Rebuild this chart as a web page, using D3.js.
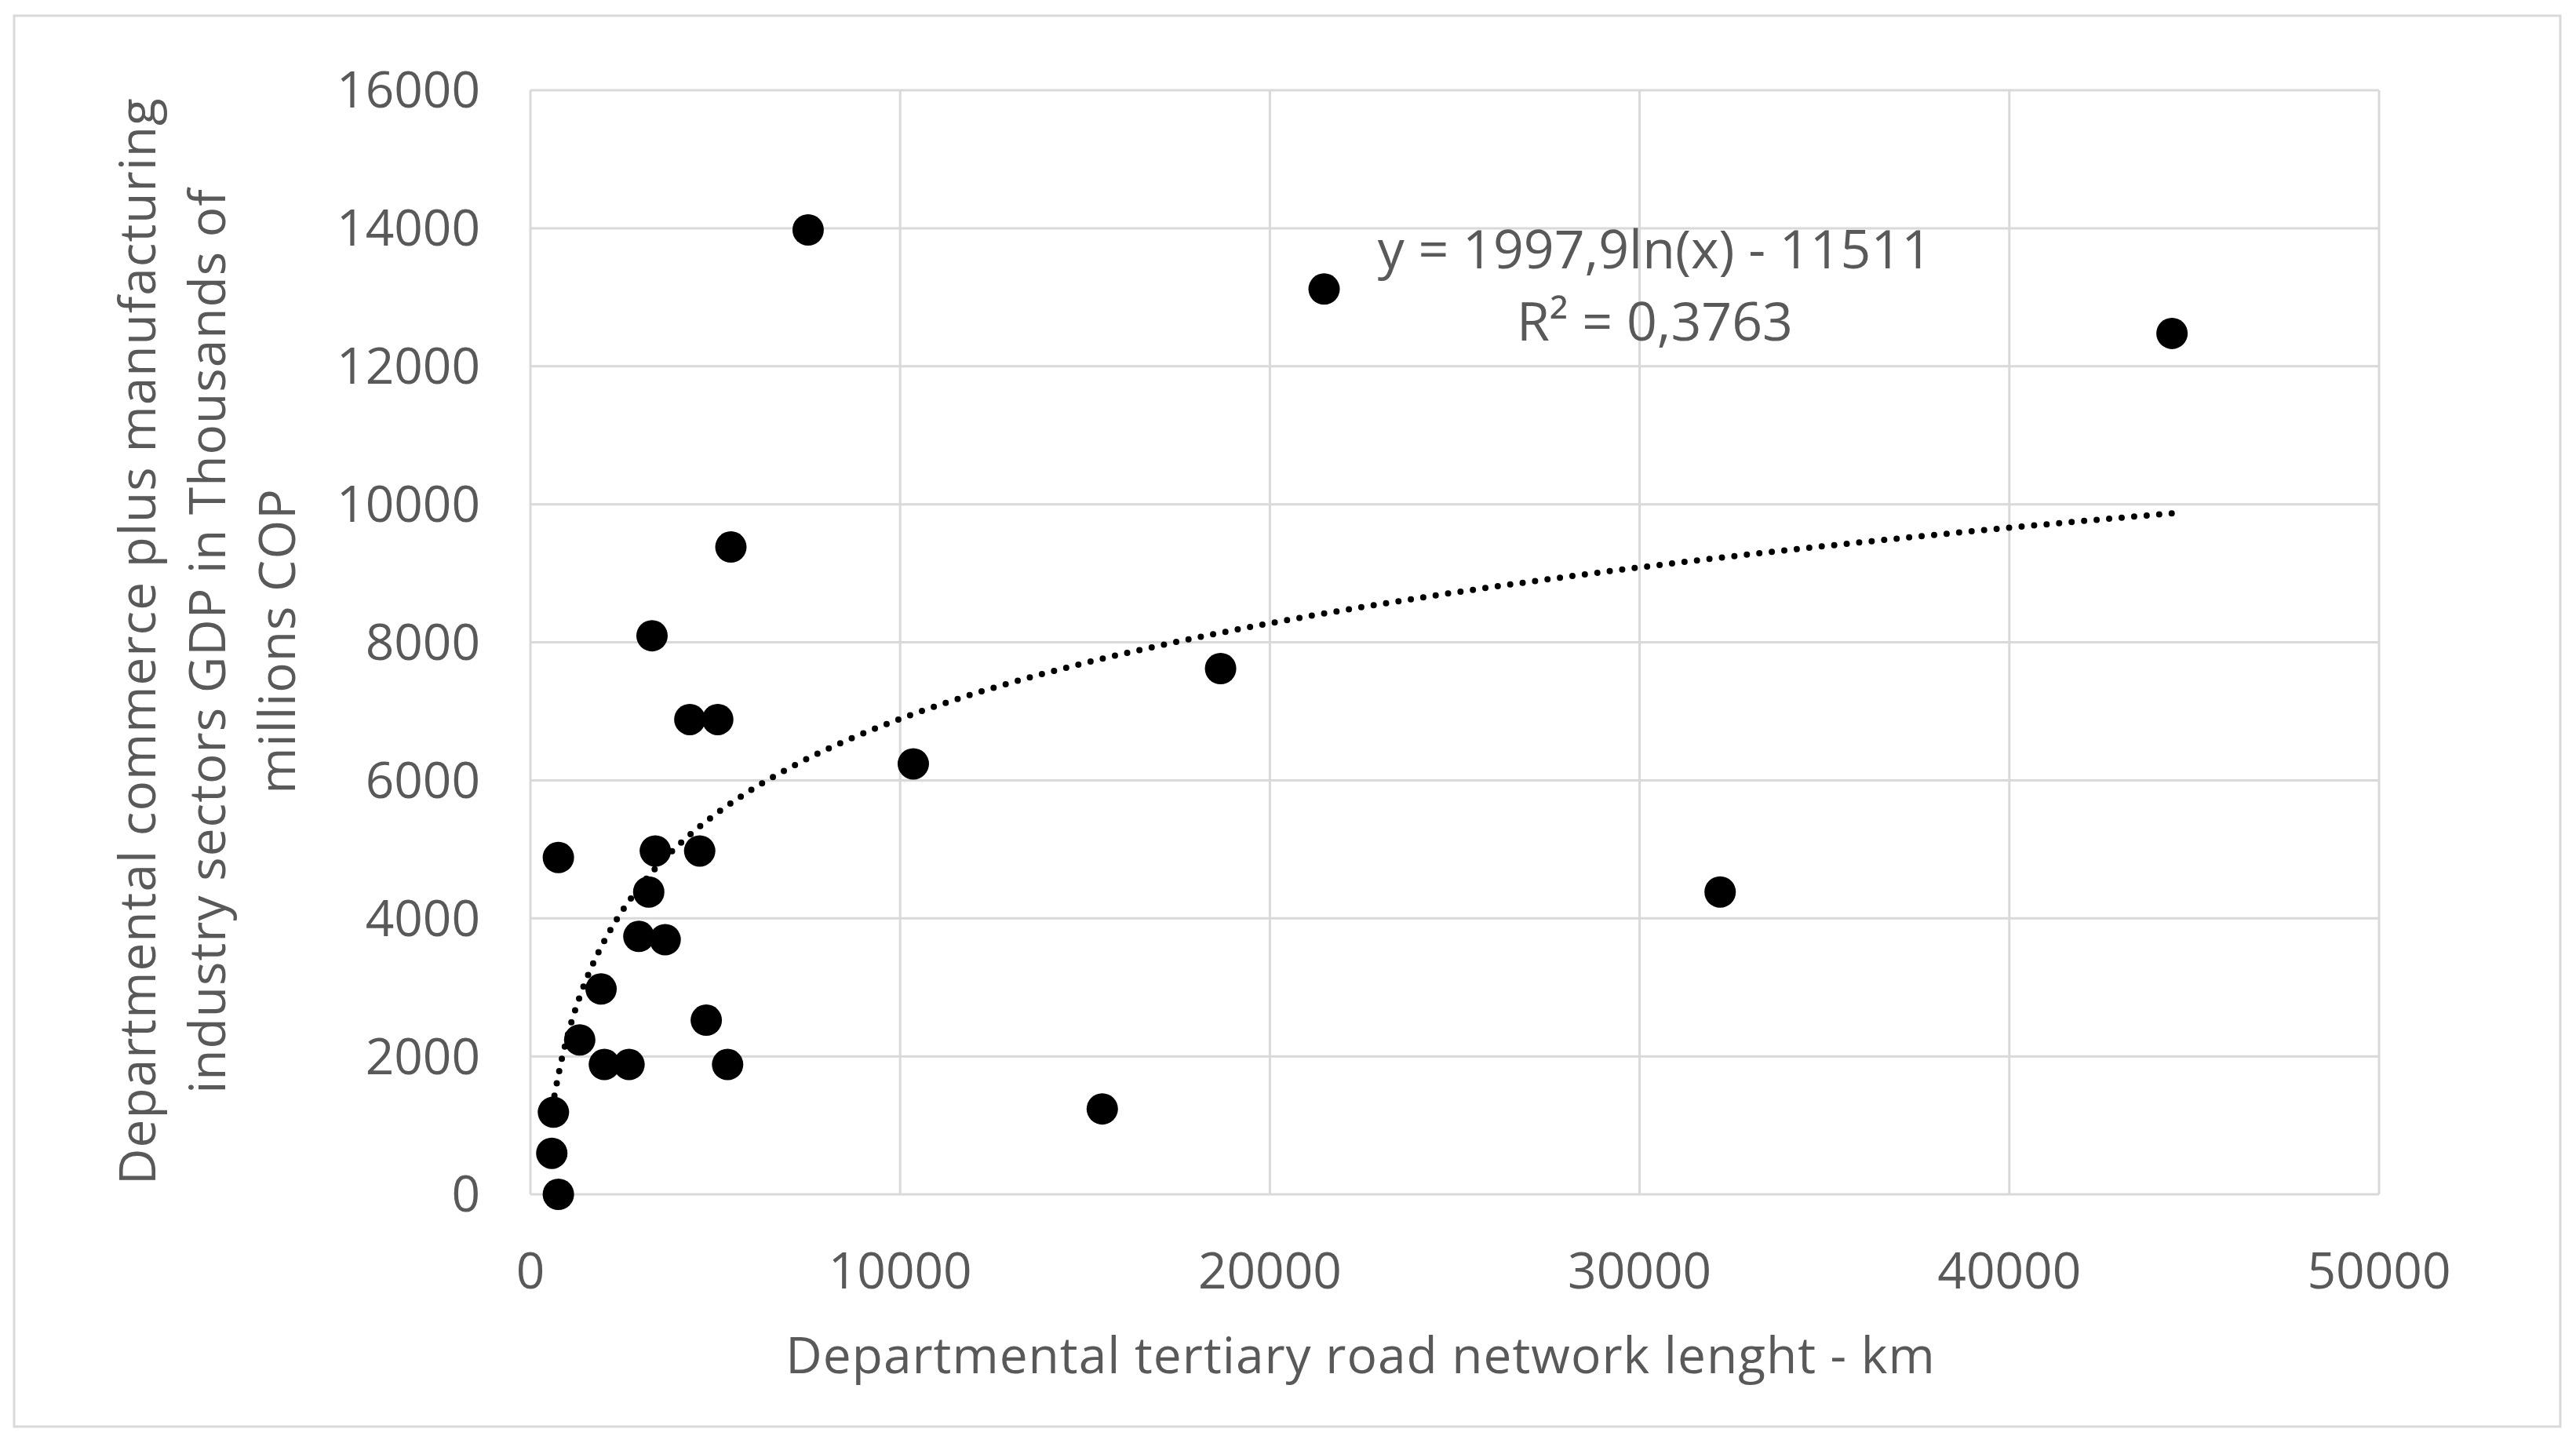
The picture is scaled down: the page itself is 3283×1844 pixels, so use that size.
<!DOCTYPE html>
<html><head><meta charset="utf-8">
<script src="https://cdn.jsdelivr.net/npm/d3@7"></script>
<style>body{margin:0;background:#fff}text{font-family:"Open Sans","Liberation Sans",sans-serif;fill:#595959}</style>
</head><body>
<svg id="chart" width="3283" height="1844"></svg>
<script>
// road network length (km) and GDP values
const roadKm = [756, 622, 578, 756, 1333, 1911, 2000, 2667, 2933, 3200, 3289, 3378, 3644, 4311, 4578, 4756, 5067, 5333, 5422, 7511, 10356, 15467, 18667, 21467, 32178, 44400];
const gdp = [4881, 1190, 595, 0, 2238, 2976, 1881, 1881, 3738, 4381, 8095, 4976, 3690, 6881, 4976, 2524, 6881, 1881, 9381, 13976, 6238, 1238, 7619, 13119, 4381, 12476];
const xTicks = [0, 10000, 20000, 30000, 40000, 50000];
const yTicks = [0, 2000, 4000, 6000, 8000, 10000, 12000, 14000, 16000];
const trendA = 1997.9, trendB = -11511;

const svg = d3.select("#chart");
svg.append("rect").attr("x", 18).attr("y", 20).attr("width", 3245).attr("height", 1798)
  .attr("fill", "none").attr("stroke", "#d9d9d9").attr("stroke-width", 3);

const x = d3.scaleLinear().domain([0, 50000]).range([676, 3032]);
const y = d3.scaleLinear().domain([0, 16000]).range([1522, 115]);

// gridlines
svg.append("g").selectAll("line").data(xTicks).join("line")
  .attr("x1", d => x(d)).attr("x2", d => x(d)).attr("y1", y(0)).attr("y2", y(16000))
  .attr("stroke", "#d9d9d9").attr("stroke-width", 3);
svg.append("g").selectAll("line").data(yTicks).join("line")
  .attr("x1", x(0)).attr("x2", x(50000)).attr("y1", d => y(d)).attr("y2", d => y(d))
  .attr("stroke", "#d9d9d9").attr("stroke-width", 3);

// tick labels
svg.append("g").selectAll("text").data(yTicks).join("text")
  .attr("x", 612).attr("y", d => y(d)).attr("dy", "0.35em").attr("text-anchor", "end")
  .attr("font-size", 64).text(d => d);
svg.append("g").selectAll("text").data(xTicks).join("text")
  .attr("x", d => x(d)).attr("y", 1642).attr("text-anchor", "middle")
  .attr("font-size", 64).text(d => d);

// trendline
const trendX = d3.range(650, 44400, 100).concat([44400]);
svg.append("path")
  .attr("d", d3.line().x(d => x(d)).y(d => y(trendA * Math.log(d) + trendB))(trendX))
  .attr("fill", "none").attr("stroke", "#000").attr("stroke-width", 8)
  .attr("stroke-dasharray", "0 16").attr("stroke-linecap", "round");

// points
svg.append("g").selectAll("circle").data(roadKm).join("circle")
  .attr("cx", d => x(d)).attr("cy", (d, i) => y(gdp[i])).attr("r", 20).attr("fill", "#000");

// equation
svg.append("text").attr("x", 2109).attr("y", 342).attr("text-anchor", "middle")
  .attr("font-size", 68).text("y = 1997,9ln(x) - 11511");
svg.append("text").attr("x", 2109).attr("y", 434).attr("text-anchor", "middle")
  .attr("font-size", 68).text("R² = 0,3763");

// axis titles
svg.append("text").attr("x", 1734).attr("y", 1750).attr("text-anchor", "middle")
  .attr("font-size", 64).attr("letter-spacing", 1).text("Departmental tertiary road network lenght - km");
const yTitle = ["Departmental commerce plus manufacturing", "industry sectors GDP in Thousands of", "millions COP"];
svg.append("g").attr("transform", "translate(178,817) rotate(-90)")
  .selectAll("text").data(yTitle).join("text")
  .attr("x", 0).attr("y", (d, i) => i * 89 + 20).attr("text-anchor", "middle")
  .attr("font-size", 64).attr("letter-spacing", 1).text(d => d);
</script>
</body></html>
